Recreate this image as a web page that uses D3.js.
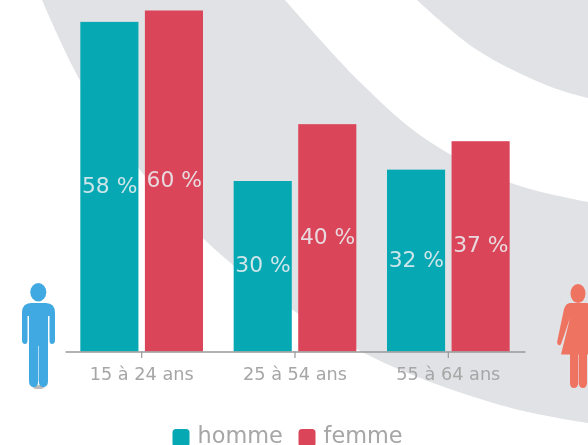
<!DOCTYPE html>
<html>
<head>
<meta charset="utf-8">
<script src="https://cdn.jsdelivr.net/npm/d3@7"></script>
<style>
html, body { margin: 0; padding: 0; background: #fff; overflow: hidden; }
svg { display: block; filter: blur(0.45px); }
text { font-family: "DejaVu Sans", sans-serif; }
</style>
</head>
<body>
<script>
var categories = ["15 à 24 ans", "25 à 54 ans", "55 à 64 ans"];
var seriesNames = ["homme", "femme"];
var homme = [58, 30, 32];
var femme = [60, 40, 37];

var w = 588;
var h = 445;
var baseY = 351.5;
var colors = {homme: "#05a8b3", femme: "#db455a"};

var svg = d3.select("body")
    .append("svg")
    .attr("width", w)
    .attr("height", h);

// grey swooshes behind the chart
var curve = d3.line().curve(d3.curveCatmullRom);
var bandLower = [[42,0],[80,80],[140,170],[233,265],[364,353],[500,405],[588,423]];
var bandUpper = [[588,202],[511,183],[427,140],[361,83],[285,0]];
var cornerEdge = [[417,0],[477,50],[551,87],[588,98]];

svg.append("path")
    .attr("d", curve(bandLower) + "L" + curve(bandUpper).slice(1) + "Z")
    .attr("fill", "#e1e2e5");
svg.append("path")
    .attr("d", curve(cornerEdge) + "L588,0Z")
    .attr("fill", "#e1e2e5");

var x0 = d3.scaleBand()
    .domain(categories)
    .range([65, 525])
    .paddingInner(0.2)
    .paddingOuter(0.1);

var x1 = d3.scaleBand()
    .domain(seriesNames)
    .range([0, x0.bandwidth()])
    .paddingInner(0.1);

var y = d3.scaleLinear()
    .domain([0, 60])
    .range([baseY, baseY - 341]);

var rows = categories.map(function(c, i){
    return [
        {cat: c, name: "homme", value: homme[i]},
        {cat: c, name: "femme", value: femme[i]}
    ];
});
var flat = d3.merge(rows);

svg.selectAll("rect.bar")
    .data(flat)
    .enter()
    .append("rect")
    .attr("class", "bar")
    .attr("x", function(d){ return x0(d.cat) + x1(d.name); })
    .attr("y", function(d){ return y(d.value); })
    .attr("width", x1.bandwidth())
    .attr("height", function(d){ return baseY - y(d.value); })
    .attr("fill", function(d){ return colors[d.name]; });

svg.selectAll("text.val")
    .data(flat)
    .enter()
    .append("text")
    .attr("class", "val")
    .attr("x", function(d){ return x0(d.cat) + x1(d.name) + x1.bandwidth()/2 + 0.3; })
    .attr("y", function(d){ return (y(d.value) + baseY)/2 + 6; })
    .attr("text-anchor", "middle")
    .attr("font-size", 21.8)
    .attr("fill", "#e9eef0")
    .attr("fill-opacity", 0.88)
    .text(function(d){ return d.value + " %"; });

var axis = svg.append("g")
    .attr("transform", "translate(0," + baseY + ")")
    .call(d3.axisBottom(x0).tickSize(6.5).tickSizeOuter(0).tickPadding(9));
axis.select(".domain").attr("stroke", "#999").attr("stroke-width", 1.4);
axis.selectAll(".tick line").attr("stroke", "#999").attr("stroke-width", 1.2);
axis.selectAll(".tick text")
    .attr("font-size", 17.7)
    .attr("font-family", "DejaVu Sans")
    .attr("fill", "#a6a6a6");

// legend
var legendX = {homme: 172.5, femme: 298.5};
var legend = svg.selectAll("g.legend")
    .data(seriesNames)
    .enter()
    .append("g")
    .attr("class", "legend")
    .attr("transform", function(d){ return "translate(" + legendX[d] + ",0)"; });
legend.append("rect")
    .attr("y", 429)
    .attr("width", 17)
    .attr("height", 18)
    .attr("rx", 3.5)
    .attr("fill", function(d){ return colors[d]; });
legend.append("text")
    .attr("x", 25)
    .attr("y", 443)
    .attr("font-size", 22.4)
    .attr("fill", "#a6a6a6")
    .text(function(d){ return d; });

// man pictogram
svg.append("ellipse").attr("cx", 38.5).attr("cy", 387).attr("rx", 6).attr("ry", 2).attr("fill", "#bbb");
svg.append("ellipse").attr("cx", 38.3).attr("cy", 292.3).attr("rx", 8).attr("ry", 9.2).attr("fill", "#41a9e2");
svg.append("path")
    .attr("fill", "#41a9e2")
    .attr("d", "M31,303 H46 Q55,303 55,313 V340 Q55,344 52,344 Q49.5,344 49.5,340 V316 H48 V381 Q48,387 43,387 Q39,387 38.8,381 V346 H38.2 V381 Q38,387 34,387 Q29,387 29,381 V316 H27.5 V340 Q27.5,344 25,344 Q22,344 22,340 V313 Q22,303 31,303 Z");

// woman pictogram
svg.append("ellipse").attr("cx", 578).attr("cy", 293.5).attr("rx", 7.5).attr("ry", 9.5).attr("fill", "#ee7461");
svg.append("path")
    .attr("fill", "#ee7461")
    .attr("d", "M570,303 H586 Q591,303 593,309 L600,342 Q600.5,346 598,346 Q595.5,346 595,342 L588,318 L596,354.5 H587 V383 Q586.5,388 583,388 Q579,388 578.8,383 V354.5 H578.2 V383 Q578,388 574,388 Q570,388 570,383 V354.5 H561 L570,318 L561.5,343 Q560.5,346 558.5,345 Q556.5,344 557.5,340 L564,309 Q566,303 570,303 Z");
</script>
</body>
</html>
